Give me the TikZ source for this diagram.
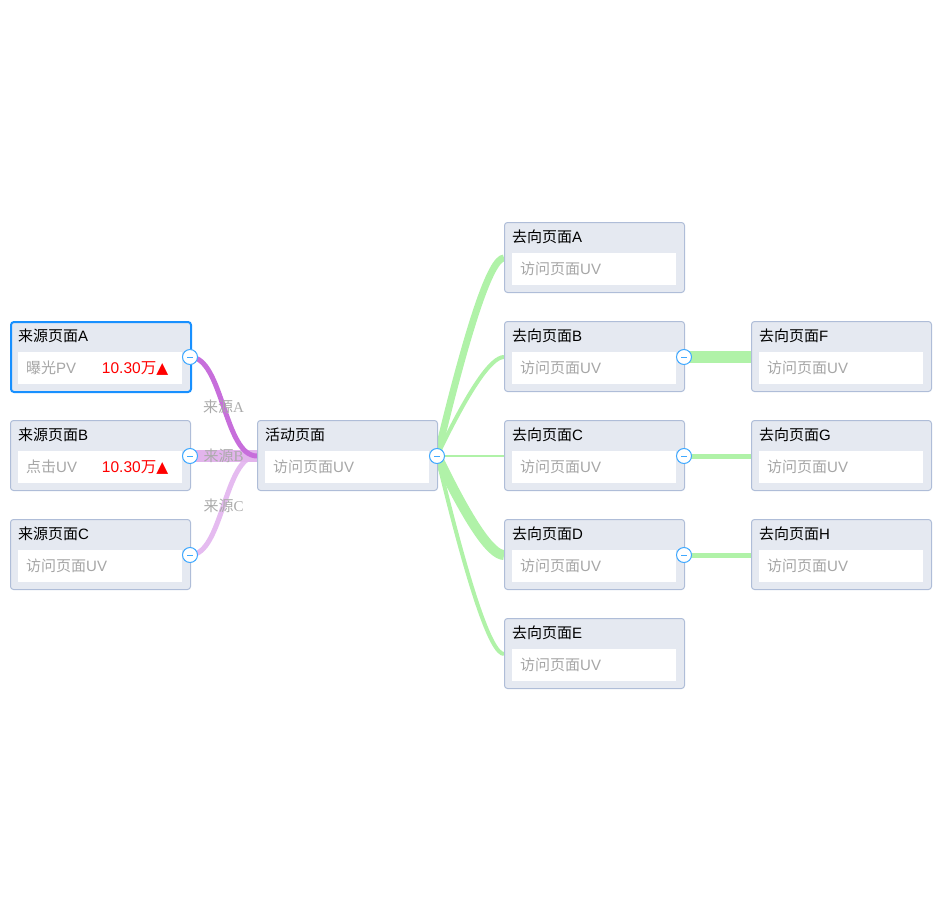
\documentclass[tikz,border=0pt]{standalone}
\usepackage{fontspec}
\setmainfont{Liberation Sans}
\newfontfamily\cjkf{Noto Sans CJK SC}
\newfontfamily\serf{Liberation Serif}
\newfontfamily\symf{DejaVu Sans}
\usetikzlibrary{calc}
\definecolor{headbg}{HTML}{E5E9F1}
\definecolor{bord}{HTML}{AFBDD8}
\definecolor{subtxt}{HTML}{A6A6A6}
\definecolor{selblue}{HTML}{1890FF}
\definecolor{btnblue}{HTML}{40A9FF}
\definecolor{purA}{HTML}{C76EDB}
\definecolor{purB}{HTML}{E2B4EC}
\definecolor{purC}{HTML}{E5BBF0}
\definecolor{grn}{HTML}{B0F2A8}
\definecolor{lbl}{HTML}{ABABAB}
\newcommand\cj[1]{{\cjkf #1}}
\tikzset{
  pagebox/.style={draw=bord, line width=1pt, fill=headbg, rounded corners=3pt,
    minimum width=180pt, minimum height=70pt, inner sep=0pt, anchor=north west},
  inbox/.style={fill=white, minimum width=164pt, minimum height=32pt, inner sep=0pt, anchor=north west},
  ttl/.style={font=\fontsize{15}{18}\selectfont, text=black, inner sep=0pt, anchor=west},
  subt/.style={font=\fontsize{15}{18}\selectfont, text=subtxt, inner sep=0pt, anchor=west},
  valt/.style={font=\fontsize{15.5}{18}\selectfont, text=red, inner sep=0pt, anchor=east},
  btn/.style={circle, draw=btnblue, line width=1pt, fill=white, minimum size=15pt, inner sep=0pt},
  elabel/.style={font=\fontsize{15}{18}\selectfont, text=lbl, inner sep=0pt},
  pedge/.style={line cap=butt},
}
\newcommand\pagenode[6][]{%
  \node[pagebox,#1] (#2) at (#3,#4) {};
  \node[inbox] (#2-in) at ($(#2.north west)+(8,31)$) {};
  \node[ttl] (#2-t) at ($(#2.north west)+(8,15)$) {#5};
  \node[subt] (#2-s) at ($(#2-in.west)+(8,0)$) {#6};
}
\newcommand\pagecoords[3]{%
  \coordinate (#1-l) at (#2,#3);
  \coordinate (#1-r) at (#2+180,#3);
}
\newcommand\collapsebtn[2]{%
  \node[btn] (#1) at (#2) {};
  \draw[btnblue, line width=1pt] ($(#1.center)+(-3,0)$) -- ($(#1.center)+(3,0)$);
}
\begin{document}
\begin{tikzpicture}[x=1pt, y=-1pt]
\useasboundingbox (0,0) rectangle (942,912);
% anchor coordinates (left/right port of every page box, 36px below its top)
\pagecoords{sA}{10}{357}
\pagecoords{sB}{10}{456}
\pagecoords{sC}{10}{555}
\pagecoords{act}{257}{456}
\pagecoords{dA}{504}{258}
\pagecoords{dB}{504}{357}
\pagecoords{dC}{504}{456}
\pagecoords{dD}{504}{555}
\pagecoords{dE}{504}{654}
\pagecoords{dF}{751}{357}
\pagecoords{dG}{751}{456}
\pagecoords{dH}{751}{555}
% incoming edges
\draw[pedge, purC, line width=5pt] (sC-r) .. controls +(33,0) and +(-33,0) .. (act-l)
  node[elabel, pos=.5] (lC) {\cj{来源}{\serf C}};
\draw[pedge, purB, line width=12pt] (sB-r) -- (act-l)
  node[elabel, pos=.5] (lB) {\cj{来源}{\serf B}};
\draw[pedge, purA, line width=5pt] (sA-r) .. controls +(33,0) and +(-33,0) .. (act-l)
  node[elabel, pos=.5] (lA) {\cj{来源}{\serf A}};
% outgoing edges
\draw[pedge, grn, line width=7pt] (act-r) .. controls +(31.7,-132) and +(-13,0) .. (dA-l);
\draw[pedge, grn, line width=4pt] (act-r) .. controls +(31.7,-66) and +(-13,0) .. (dB-l);
\draw[pedge, grn, line width=1.5pt] (act-r) -- (dC-l);
\draw[pedge, grn, line width=10pt] (act-r) .. controls +(31.7,66) and +(-13,0) .. (dD-l);
\draw[pedge, grn, line width=4pt] (act-r) .. controls +(31.7,132) and +(-13,0) .. (dE-l);
\draw[pedge, grn, line width=12pt] (dB-r) -- (dF-l);
\draw[pedge, grn, line width=5pt] (dC-r) -- (dG-l);
\draw[pedge, grn, line width=5pt] (dD-r) -- (dH-l);
% page boxes
\pagenode[draw=selblue, line width=2pt]{sA}{10}{321}{\cj{来源页面}A}{\cj{曝光}PV}
\node[valt] (sA-v) at ($(sA-in.east)+(-14,0)$) {10.30\cj{万}{\symf ▲}};
\pagenode{sB}{10}{420}{\cj{来源页面}B}{\cj{点击}UV}
\node[valt] (sB-v) at ($(sB-in.east)+(-14,0)$) {10.30\cj{万}{\symf ▲}};
\pagenode{sC}{10}{519}{\cj{来源页面}C}{\cj{访问页面}UV}
\pagenode{act}{257}{420}{\cj{活动页面}}{\cj{访问页面}UV}
\pagenode{dA}{504}{222}{\cj{去向页面}A}{\cj{访问页面}UV}
\pagenode{dB}{504}{321}{\cj{去向页面}B}{\cj{访问页面}UV}
\pagenode{dC}{504}{420}{\cj{去向页面}C}{\cj{访问页面}UV}
\pagenode{dD}{504}{519}{\cj{去向页面}D}{\cj{访问页面}UV}
\pagenode{dE}{504}{618}{\cj{去向页面}E}{\cj{访问页面}UV}
\pagenode{dF}{751}{321}{\cj{去向页面}F}{\cj{访问页面}UV}
\pagenode{dG}{751}{420}{\cj{去向页面}G}{\cj{访问页面}UV}
\pagenode{dH}{751}{519}{\cj{去向页面}H}{\cj{访问页面}UV}
% collapse buttons
\collapsebtn{bsA}{sA-r}
\collapsebtn{bsB}{sB-r}
\collapsebtn{bsC}{sC-r}
\collapsebtn{bact}{act-r}
\collapsebtn{bdB}{dB-r}
\collapsebtn{bdC}{dC-r}
\collapsebtn{bdD}{dD-r}
\end{tikzpicture}
\end{document}
